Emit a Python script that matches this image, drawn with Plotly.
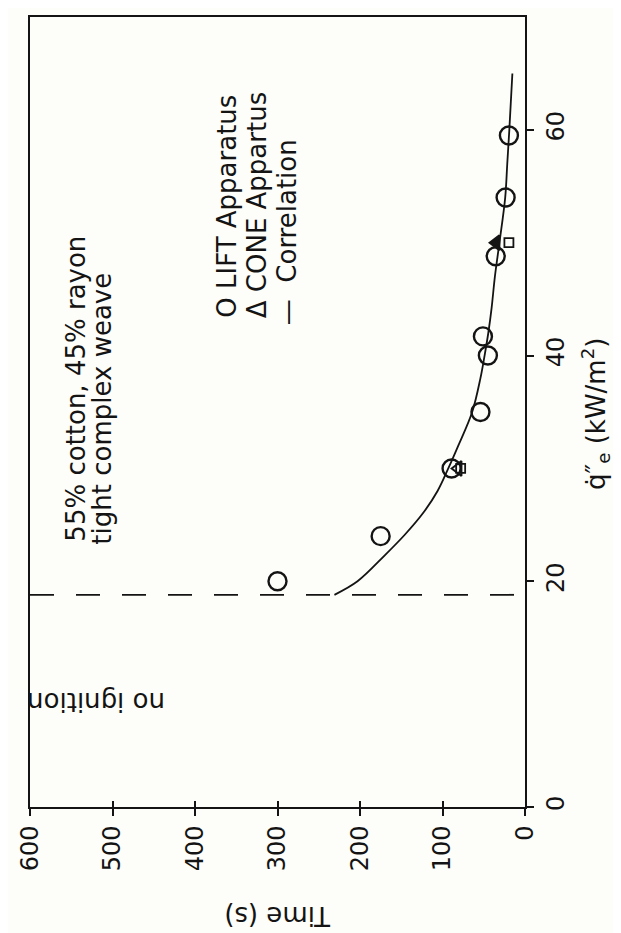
import plotly.graph_objects as go

# ---- data ----
lift_q = [20, 24, 30, 35, 40, 41.7, 48.8, 54, 59.5]
lift_t = [300, 175, 89, 54, 45, 51, 35.5, 23.5, 19.5]

cone_q = [30, 50]
cone_t = [81, 35]

cone_sq_q = [30, 50]
cone_sq_t = [78, 19.5]

corr_q = [18.8, 20, 22.3, 24.1, 26, 28, 30, 32, 35, 38, 40, 42, 44.2, 47, 50, 54, 57, 60, 65]
corr_t = [231, 203, 170, 146, 124, 106, 93, 81, 64, 54, 49, 44.5, 40.5, 36.5, 31, 24, 21.5, 19, 15.3]

q_min = 18.8
time_span = [600, 0]

time_ticks = [0, 100, 200, 300, 400, 500, 600]
q_ticks = [0, 20, 40, 60]

INK = "#141414"
BG = "#fdfdf9"
FONT = "DejaVu Sans"

fig = go.Figure()

fig.add_trace(go.Scatter(x=time_span, y=[q_min, q_min], mode="lines",
                         line=dict(color=INK, width=1.8, dash="24px,22px"),
                         showlegend=False, hoverinfo="skip"))
fig.add_trace(go.Scatter(x=corr_t, y=corr_q, mode="lines", line_shape="spline",
                         line=dict(color=INK, width=1.8), showlegend=False))
fig.add_trace(go.Scatter(x=lift_t, y=lift_q, mode="markers",
                         marker=dict(symbol="circle-open", size=18, color=INK,
                                     line=dict(width=2.4, color=INK)),
                         showlegend=False))
fig.add_trace(go.Scatter(x=cone_t, y=cone_q, mode="markers",
                         marker=dict(symbol=["triangle-left-open", "triangle-left"], size=13,
                                     color=INK, line=dict(width=2, color=INK)),
                         showlegend=False))
fig.add_trace(go.Scatter(x=cone_sq_t, y=cone_sq_q, mode="markers",
                         marker=dict(symbol="square-open", size=9, color=INK,
                                     line=dict(width=1.8, color=INK)),
                         showlegend=False))
# empty trace so the inner-tick overlay axis is drawn
fig.add_trace(go.Scatter(x=[], y=[], xaxis="x2", yaxis="y", showlegend=False))

L, R, T, B = 22, 517, 7, 799
def px(xp):
    return (xp - L) / (R - L)
def py(yp):
    return (B - yp) / (B - T)

def ann(text, x, y, angle, xanchor="center", yanchor="middle", size=26):
    fig.add_annotation(text=text, x=px(x), y=py(y), xref="paper", yref="paper",
                       textangle=angle, showarrow=False, xanchor=xanchor, yanchor=yanchor,
                       font=dict(family=FONT, size=size, color=INK))

ann("55% cotton, 45% rayon", 68, 535, -90, yanchor="bottom")
ann("tight complex weave", 94, 538, -90, yanchor="bottom")
ann("O LIFT Apparatus", 219, 311, -90, yanchor="bottom")
ann("Δ CONE Appartus", 249, 311, -90, yanchor="bottom")
ann("—  Correlation", 279, 318, -90, yanchor="bottom")
ann("no ignition", 88, 693, 180)
ann("Time (s)", 270, 909, 180, size=26)
ann("q̇″<sub>e</sub> (kW/m<sup>2</sup>)", 588, 405, -90, size=26)

axis_common = dict(showline=True, linecolor=INK, linewidth=1.8, mirror=True,
                   showgrid=False, zeroline=False, ticks="outside", ticklen=7,
                   tickwidth=1.6, tickcolor=INK, tickangle=-90,
                   tickfont=dict(family=FONT, size=24, color=INK))

fig.update_layout(
    width=621, height=933,
    margin=dict(l=L, r=621 - R, t=T, b=933 - B),
    paper_bgcolor=BG, plot_bgcolor=BG,
    showlegend=False,
    xaxis=dict(range=[600, 0], tickvals=time_ticks, **axis_common),
    xaxis2=dict(range=[600, 0], tickvals=time_ticks, overlaying="x", side="bottom",
                anchor="y", showticklabels=False, showline=False, showgrid=False,
                zeroline=False, ticks="inside", ticklen=6, tickwidth=1.6, tickcolor=INK),
    yaxis=dict(range=[0, 70], tickvals=q_ticks, side="right", ticklabelstandoff=1, **axis_common),
)

fig.write_html("out.html")
